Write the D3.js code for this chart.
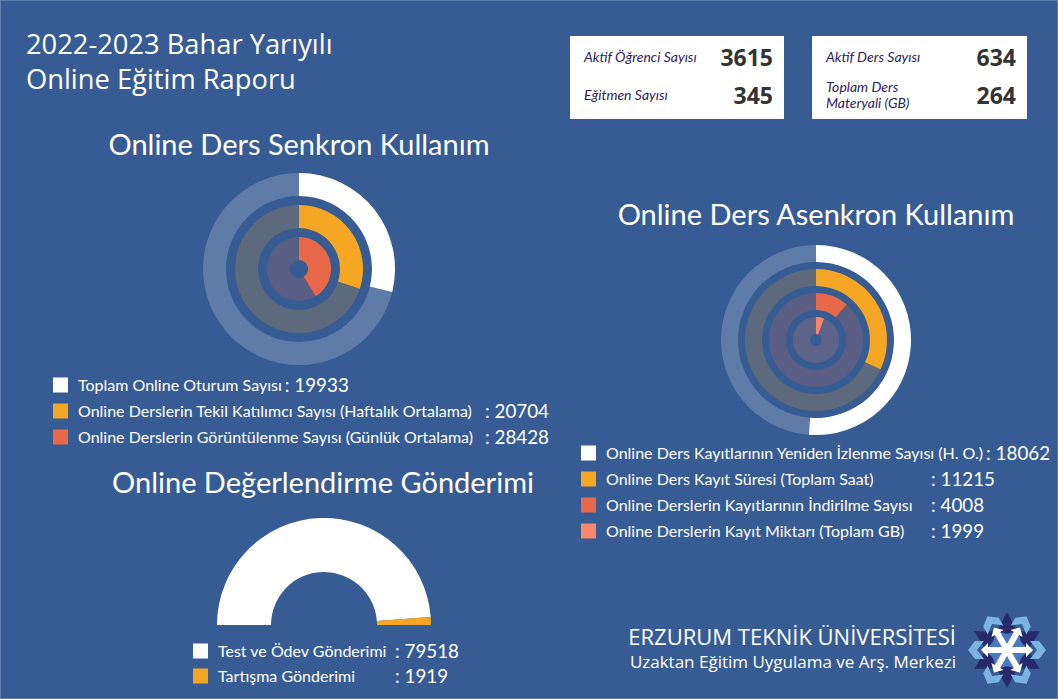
<!DOCTYPE html>
<html>
<head>
<meta charset="utf-8">
<script src="https://cdn.jsdelivr.net/npm/d3@7"></script>
<style>
  body { margin: 0; background: #375b93; }
  svg { display: block; }
  .ttl { font-family: "Open Sans", sans-serif; fill: #fff; }
  .sec { font-family: Lato, sans-serif; fill: #fff; font-size: 29px; }
  .lg { font-family: Lato, sans-serif; fill: #fff; font-size: 16px; }
  .lv { font-family: Lato, sans-serif; fill: #fff; font-size: 18.8px; }
  .sl { font-family: Lato, sans-serif; font-style: italic; fill: #2e2160; font-size: 14px; }
  .sv { font-family: "Open Sans", sans-serif; font-weight: 700; fill: #333; font-size: 23px; }
</style>
</head>
<body>
<div id="chart"></div>
<script>
// ---- data ----
const titleLines = ["2022-2023 Bahar Yarıyılı", "Online Eğitim Raporu"];

const statLabelsA = [["Aktif Öğrenci Sayısı"], ["Eğitmen Sayısı"]];
const statValuesA = [3615, 345];
const statLabelsB = [["Aktif Ders Sayısı"], ["Toplam Ders", "Materyali (GB)"]];
const statValuesB = [634, 264];

const senkronTitle = "Online Ders Senkron Kullanım";
const senkronLabels = [
  "Toplam Online Oturum Sayısı",
  "Online Derslerin Tekil Katılımcı Sayısı (Haftalık Ortalama)",
  "Online Derslerin Görüntülenme Sayısı (Günlük Ortalama)"
];
const senkronValues = [19933, 20704, 28428];
const senkronColors = ["#ffffff", "#f5a623", "#e8694a"];

const asenkronTitle = "Online Ders Asenkron Kullanım";
const asenkronLabels = [
  "Online Ders Kayıtlarının Yeniden İzlenme Sayısı (H. O.)",
  "Online Ders Kayıt Süresi (Toplam Saat)",
  "Online Derslerin Kayıtlarının İndirilme Sayısı",
  "Online Derslerin Kayıt Miktarı (Toplam GB)"
];
const asenkronValues = [18062, 11215, 4008, 1999];
const asenkronColors = ["#ffffff", "#f5a623", "#e8694a", "#f9876b"];

const degerTitle = "Online Değerlendirme Gönderimi";
const degerLabels = ["Test ve Ödev Gönderimi", "Tartışma Gönderimi"];
const degerValues = [79518, 1919];
const degerColors = ["#ffffff", "#f5a623"];

const footerLines = ["ERZURUM TEKNİK ÜNİVERSİTESİ", "Uzaktan Eğitim Uygulama ve Arş. Merkezi"];

// ---- page ----
const W = 1058, H = 699, BG = "#375b93";
const svg = d3.select("#chart").append("svg").attr("width", W).attr("height", H);
svg.append("rect").attr("width", W).attr("height", H).attr("fill", BG)
  .attr("stroke", "#6e8cbc").attr("stroke-width", 1.5);

svg.selectAll("text.main").data(titleLines).join("text")
  .attr("class", "ttl main").attr("x", 26).attr("y", (d, i) => 54 + i * 35)
  .attr("font-size", 27.3).text(d => d);

// stat boxes
function statBox(x0, w, labels, values) {
  const g = svg.append("g").attr("transform", `translate(${x0},36)`);
  g.append("rect").attr("width", w).attr("height", 83).attr("fill", "#fff");
  const rowY = d3.scalePoint().domain(d3.range(values.length)).range([26, 64]);
  labels.forEach((ls, i) => {
    const t = g.append("text").attr("class", "sl").attr("x", 14)
      .attr("y", rowY(i) - (ls.length - 1) * 8);
    ls.forEach((l, j) => t.append("tspan").attr("x", 14).attr("dy", j ? 16 : 0).text(l));
    g.append("text").attr("class", "sv").attr("x", w - 11).attr("y", rowY(i) + 4)
      .attr("text-anchor", "end").text(values[i]);
  });
}
statBox(570, 214, statLabelsA, statValuesA);
statBox(812, 215, statLabelsB, statValuesB);

// radial bar rings
function rings(cx, cy, values, colors, rOuter, rInner, pad) {
  const total = d3.sum(values);
  const ang = d3.scaleLinear().domain([0, total]).range([0, 2 * Math.PI]);
  const rad = d3.scaleBand().domain(d3.range(values.length)).range([rOuter, rInner]).paddingInner(pad);
  const arc = d3.arc();
  const g = svg.append("g").attr("transform", `translate(${cx},${cy})`);
  values.forEach((v, i) => {
    const r0 = rad(i), r1 = rad(i) + rad.bandwidth();
    g.append("path").attr("d", arc({ innerRadius: r0, outerRadius: r1, startAngle: 0, endAngle: 2 * Math.PI }))
      .attr("fill", colors[i]).attr("fill-opacity", 0.2);
    g.append("path").attr("d", arc({ innerRadius: r0, outerRadius: r1, startAngle: 0, endAngle: ang(v) }))
      .attr("fill", colors[i]);
  });
}

function legend(x, y0, step, labels, values, colors, colonX) {
  const g = svg.append("g");
  labels.forEach((l, i) => {
    const y = y0 + i * step;
    g.append("rect").attr("x", x).attr("y", y - 7.5).attr("width", 15).attr("height", 15)
      .attr("fill", colors[i]);
    const t = g.append("text").attr("class", "lg").attr("x", x + 25).attr("y", y + 5.5).text(l);
    const endX = x + 25 + t.node().getComputedTextLength();
    const cx = colonX[i] != null ? colonX[i] : endX + 3;
    g.append("text").attr("class", "lv").attr("x", cx).attr("y", y + 6.5).text(": " + values[i]);
  });
}

// senkron
svg.append("text").attr("class", "sec").attr("x", 299).attr("y", 155).attr("text-anchor", "middle").text(senkronTitle);
rings(299, 269, senkronValues, senkronColors, 96, 9, 9 / 32);
legend(53, 385, 26, senkronLabels, senkronValues, senkronColors, [null, 485, 485]);

// asenkron
svg.append("text").attr("class", "sec").attr("x", 816).attr("y", 225).attr("text-anchor", "middle").text(asenkronTitle);
rings(816, 340, asenkronValues, asenkronColors, 95, 6, 7 / 24);
legend(581, 453, 26, asenkronLabels, asenkronValues, asenkronColors, [null, 931, 931, 931]);

// degerlendirme half donut
svg.append("text").attr("class", "sec").attr("x", 323).attr("y", 493).attr("text-anchor", "middle").text(degerTitle);
const pie = d3.pie().sort(null).startAngle(-Math.PI / 2).endAngle(Math.PI / 2);
const halfArc = d3.arc().innerRadius(53).outerRadius(107);
svg.append("g").attr("transform", "translate(324,625)")
  .selectAll("path").data(pie(degerValues)).join("path")
  .attr("d", halfArc).attr("fill", (d, i) => degerColors[i]);
legend(193, 651, 25, degerLabels, degerValues, degerColors, [395, 395]);

// footer
svg.append("text").attr("class", "ttl").attr("x", 956).attr("y", 645).attr("text-anchor", "end")
  .attr("font-size", 22).text(footerLines[0]);
svg.append("text").attr("class", "ttl").attr("x", 956).attr("y", 668).attr("text-anchor", "end")
  .attr("font-size", 17).text(footerLines[1]);

// logo
const logo = svg.append("g").attr("transform", "translate(1007,650)");
const dirs = d3.range(6);
logo.selectAll("path.dk").data(dirs).join("path")
  .attr("d", "M0,0 L-10,-19 L0,-38 L10,-19 Z").attr("fill", "#262a6b")
  .attr("transform", d => `rotate(${d * 60})`);
logo.selectAll("path.lb").data(dirs).join("path")
  .attr("d", "M-9,-23 L0,-30 L9,-23 L9,-32 L0,-39 L-9,-32 Z").attr("fill", "#7db3e0")
  .attr("transform", d => `rotate(${d * 60 + 30})`);
logo.selectAll("path.lb2").data(dirs).join("path")
  .attr("d", "M-10,-12 L0,-22 L10,-12 L0,-3 Z").attr("fill", "#4a78c2")
  .attr("transform", d => `rotate(${d * 60 + 30})`);
logo.selectAll("path.wh").data(dirs).join("path")
  .attr("d", "M-3,0 L-3,-19 L-7,-19 L0,-26 L7,-19 L3,-19 L3,0 Z").attr("fill", "#fff")
  .attr("transform", d => `rotate(${d * 60 + 30})`);
</script>
</body>
</html>
